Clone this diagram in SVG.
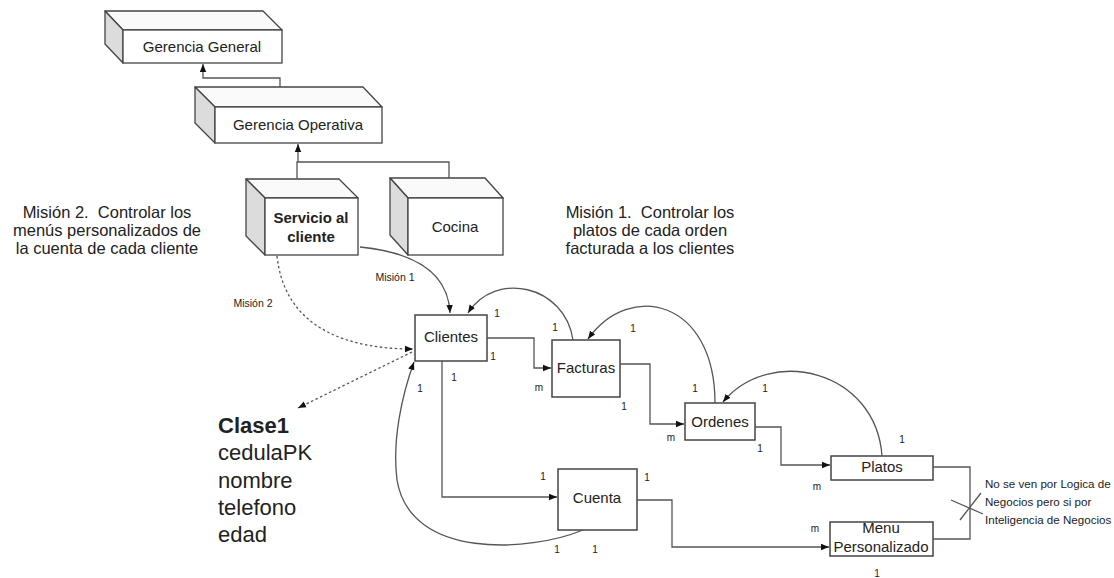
<svg xmlns="http://www.w3.org/2000/svg" width="1114" height="578" viewBox="0 0 1114 578">
<style>
text{font-family:"Liberation Sans",Arial,sans-serif;fill:#222}
.bx{font-size:15px;text-anchor:middle}
.front{fill:#fff;stroke:#444;stroke-width:1.3}
.top{fill:#fafafa;stroke:#444;stroke-width:1.3;stroke-linejoin:round}
.side{fill:#dcdcdc;stroke:#444;stroke-width:1.3;stroke-linejoin:round}
.ent{fill:#fff;stroke:#444;stroke-width:1.5}
.ln{fill:none;stroke:#555;stroke-width:1.3}
.dot{fill:none;stroke:#555;stroke-width:1.3;stroke-dasharray:2.5,2.5}
.m{font-size:10px;text-anchor:middle}
.big{font-size:16.5px;text-anchor:middle;white-space:pre}
.cls{font-size:22px}
.note{font-size:11.6px}
</style>
<defs>
<marker id="arr" viewBox="0 0 10 10" refX="10" refY="5" markerWidth="8" markerHeight="8" markerUnits="userSpaceOnUse" orient="auto"><path d="M0,1 L10,5 L0,9 z" fill="#111"/></marker>
</defs>

<g id="gerencia-general">
<polygon class="top" points="105,11 263,11 282,30 123,30"/>
<polygon class="side" points="105,11 123,30 123,63 105,44"/>
<rect class="front" x="123" y="30" width="159" height="33"/>
<text class="bx" x="202" y="52">Gerencia General</text>
</g>
<g id="gerencia-operativa">
<polygon class="top" points="195,87 363,87 382,107 215,107"/>
<polygon class="side" points="195,87 215,107 215,143 195,123"/>
<rect class="front" x="215" y="107" width="167" height="36"/>
<text class="bx" x="298" y="130">Gerencia Operativa</text>
</g>
<g id="servicio">
<polygon class="top" points="246,179 339,179 358,198 265,198"/>
<polygon class="side" points="246,179 265,198 265,255 246,236"/>
<rect class="front" x="265" y="198" width="93" height="57"/>
<text class="bx" x="311" y="223" font-weight="bold">Servicio al</text>
<text class="bx" x="311" y="242" font-weight="bold">cliente</text>
</g>
<g id="cocina">
<polygon class="top" points="390,178 485,178 503,198 408,198"/>
<polygon class="side" points="390,178 408,198 408,255 390,235"/>
<rect class="front" x="408" y="198" width="95" height="57"/>
<text class="bx" x="455" y="232">Cocina</text>
</g>

<g id="clientes"><rect class="ent" x="415" y="315" width="72" height="46"/><text class="bx" x="451" y="342">Clientes</text></g>
<g id="facturas"><rect class="ent" x="552" y="340" width="68" height="57"/><text class="bx" x="586" y="373">Facturas</text></g>
<g id="ordenes"><rect class="ent" x="685" y="403" width="70" height="37"/><text class="bx" x="720" y="427">Ordenes</text></g>
<g id="platos"><rect class="ent" x="831" y="456" width="102" height="24"/><text class="bx" x="882" y="472">Platos</text></g>
<g id="cuenta"><rect class="ent" x="558" y="469" width="79" height="61"/><text class="bx" x="597" y="503">Cuenta</text></g>
<g id="menu"><rect class="ent" x="830" y="522" width="103" height="34"/><text class="bx" x="881" y="533">Menu</text><text class="bx" x="881" y="552">Personalizado</text></g>

<g id="connectors">
<path class="ln" d="M280,87 L280,78 L203,78 L203,64" marker-end="url(#arr)"/>
<path class="ln" d="M297,179 L297,162 L449,162 L449,178"/>
<path class="ln" d="M298,162 L298,144" marker-end="url(#arr)"/>
<path class="ln" d="M360,247 C410,252 448,270 450,313" marker-end="url(#arr)"/>
<path class="dot" d="M277,256 C285,330 350,349 413,349" marker-end="url(#arr)"/>
<path class="dot" d="M412,352 L298,408" marker-end="url(#arr)"/>
<path class="ln" d="M487,338 L534,338 L534,368 L551,368" marker-end="url(#arr)"/>
<path class="ln" d="M620,364 L650,364 L650,424 L684,424" marker-end="url(#arr)"/>
<path class="ln" d="M755,427 L781,427 L781,465 L830,465" marker-end="url(#arr)"/>
<path class="ln" d="M442,361 L442,497 L557,497" marker-end="url(#arr)"/>
<path class="ln" d="M637,500 L672,500 L672,547 L829,547" marker-end="url(#arr)"/>
<path class="ln" d="M573,340 C565,285 495,270 468,313" marker-end="url(#arr)"/>
<path class="ln" d="M715,403 C715,300 630,280 588,339" marker-end="url(#arr)"/>
<path class="ln" d="M882,456 C876,370 770,345 723,402" marker-end="url(#arr)"/>
<path class="ln" d="M583,530 C530,552 410,560 397,480 C392,440 402,395 414,362" marker-end="url(#arr)"/>
<path class="ln" d="M933,467 L970,467 L970,539 L933,539"/>
<path class="ln" d="M951,500 L983,514 M960,520 L981,493"/>
</g>

<g id="labels">
<text x="395" y="281" style="font-size:10.5px;text-anchor:middle">Misión 1</text>
<text x="253" y="307" style="font-size:10.5px;text-anchor:middle">Misión 2</text>
<text class="m" x="497" y="317">1</text>
<text class="m" x="555" y="331">1</text>
<text class="m" x="633" y="332">1</text>
<text class="m" x="493" y="360">1</text>
<text class="m" x="454" y="381">1</text>
<text class="m" x="420" y="392">1</text>
<text class="m" x="539" y="391">m</text>
<text class="m" x="624" y="410">1</text>
<text class="m" x="671" y="441">m</text>
<text class="m" x="695" y="392">1</text>
<text class="m" x="765" y="392">1</text>
<text class="m" x="760" y="452">1</text>
<text class="m" x="902" y="443">1</text>
<text class="m" x="817" y="490">m</text>
<text class="m" x="647" y="481">1</text>
<text class="m" x="543" y="480">1</text>
<text class="m" x="557" y="553">1</text>
<text class="m" x="595" y="553">1</text>
<text class="m" x="815" y="532">m</text>
<text class="m" x="877" y="577">1</text>
</g>

<g id="texts">
<text class="big" x="107" y="218">Misión 2.  Controlar los</text>
<text class="big" x="107" y="236">menús personalizados de</text>
<text class="big" x="107" y="254">la cuenta de cada cliente</text>
<text class="big" x="650" y="218">Misión 1.  Controlar los</text>
<text class="big" x="650" y="236">platos de cada orden</text>
<text class="big" x="650" y="254">facturada a los clientes</text>
<text class="note" x="985" y="488">No se ven por Logica de</text>
<text class="note" x="985" y="506">Negocios pero si por</text>
<text class="note" x="985" y="524">Inteligencia de Negocios</text>
<text class="cls" x="218" y="433" font-weight="bold">Clase1</text>
<text class="cls" x="218" y="460">cedulaPK</text>
<text class="cls" x="218" y="488">nombre</text>
<text class="cls" x="218" y="515">telefono</text>
<text class="cls" x="218" y="542">edad</text>
</g>
</svg>
